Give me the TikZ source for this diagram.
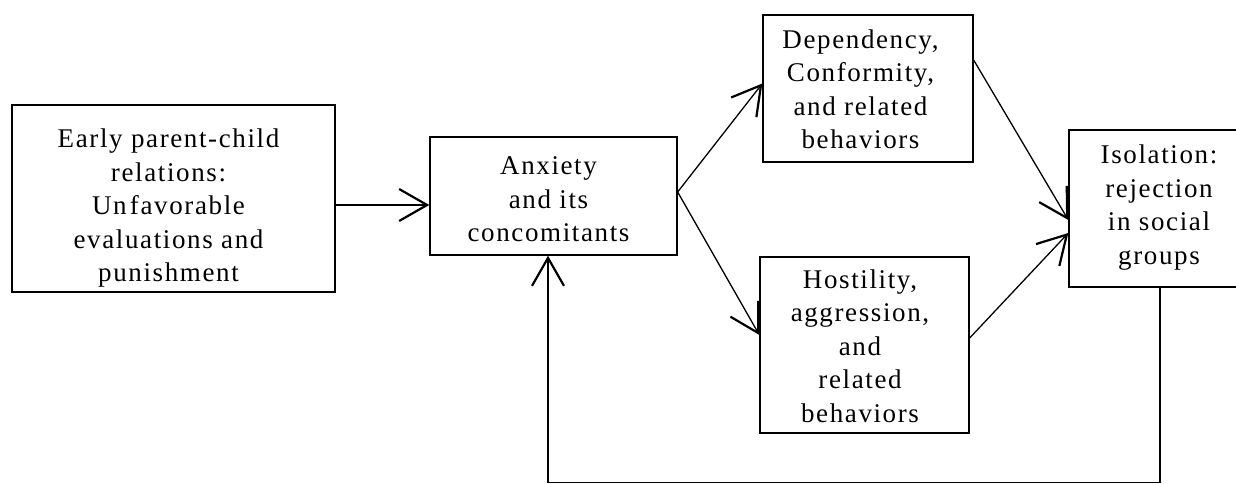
\documentclass[tikz,border=0pt]{standalone}
\usepackage{fontspec}
\setmainfont{Liberation Serif}[LetterSpace=6]
\usetikzlibrary{arrows.meta,calc}
\begin{document}
\begin{tikzpicture}[x=1pt,y=-1pt,
  box/.style={draw, line width=1.3pt, inner sep=0pt},
  txt/.style={inner sep=0pt, align=center, font=\fontsize{27}{33.5}\selectfont},
  arr/.style={-{Straight Barb[length=28pt,width=32pt,line width=2.2pt]}, line width=1.3pt}]
\useasboundingbox (0,0) rectangle (1236,484);
\node[box, minimum width=323pt, minimum height=187pt] (b1) at (173.5,198.5) {};
\node[box, minimum width=247pt, minimum height=118pt] (b2) at (553.5,196) {};
\node[box, minimum width=210pt, minimum height=147pt] (b3) at (868,88.5) {};
\node[box, minimum width=209pt, minimum height=176pt] (b4) at (864.5,345) {};
\node[box, minimum width=182pt, minimum height=157pt] (b5) at (1160,208.5) {};
\node[txt] (t1) at ($(b1)+(-5,10)$)
  {Early parent-child\\relations:\\Un\hspace{0.12em}favorable\\evaluations and\\punishment};
\node[txt] (t2) at ($(b2)+(-5,3.5)$) {Anxiety\\and its\\concomitants};
\node[txt] (t3) at ($(b3)+(-7.5,1)$) {Dependency,\\Conformity,\\and related\\behaviors};
\node[txt] (t4) at ($(b4)+(-4.5,1)$) {Hostility,\\aggression,\\and\\related\\behaviors};
\node[txt] (t5) at ($(b5)+(-1,-1)$) {Isolation:\\rejection\\in social\\groups};
\coordinate (c1) at ($(b5.south)+(0,195)$);
\coordinate (c2) at ($(b2.south)+(-5.5,227)$);
\draw[arr] ([yshift=-6.5pt]b1.east) -- ([yshift=-6.5pt]b1.east -| b2.west);
\draw[arr] ([yshift=4pt]b2.east) -- ([yshift=5pt]b3.west);
\draw[arr] ([yshift=4pt]b2.east) -- ([yshift=10pt]b4.west);
\draw[arr] ([yshift=28.5pt]b3.east) -- ([yshift=-11.5pt]b5.west);
\draw[arr] ([yshift=7pt]b4.east) -- ([yshift=-24.5pt]b5.west);
\draw[arr] (b5.south) -- (c1) -- (c2) -- ([xshift=-5.5pt]b2.south);
\end{tikzpicture}
\end{document}
